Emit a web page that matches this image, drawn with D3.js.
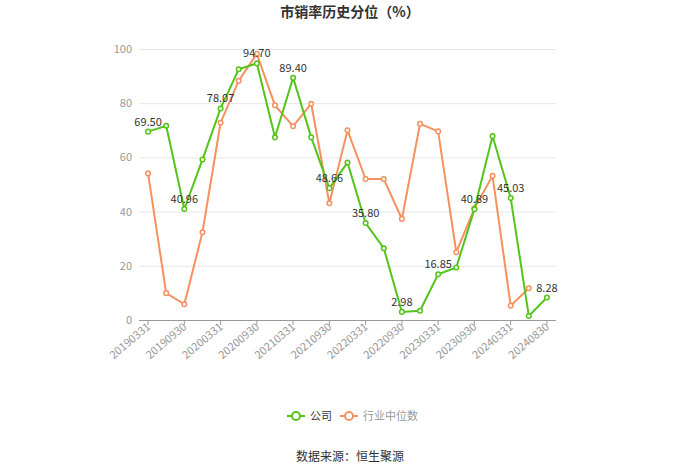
<!DOCTYPE html>
<html><head><meta charset="utf-8">
<script src="https://cdn.jsdelivr.net/npm/d3@7"></script>
<style>body{margin:0;background:#fff;font-family:"Microsoft YaHei","Noto Sans CJK SC",sans-serif;}</style>
</head><body><svg id="c" width="700" height="474"></svg>
<script>
const categories = ["20190331","20190630","20190930","20191231","20200331","20200630","20200930","20201231","20210331","20210630","20210930","20211231","20220331","20220630","20220930","20221231","20230331","20230630","20230930","20231231","20240331","20240630","20240830"];
const companyValues = [69.50,71.7,40.96,59.2,78.07,92.5,94.70,67.4,89.40,67.4,48.66,58.1,35.80,26.5,2.98,3.4,16.85,19.4,40.89,67.9,45.03,1.5,8.28];
const industryValues = [54.1,9.9,5.8,32.4,72.8,88.3,98.2,79.2,71.5,79.8,43.1,70.0,52.0,52.0,37.3,72.4,69.6,25.0,41.2,53.2,5.3,11.7,null];
const yTicks = [0,20,40,60,80,100];
const title = "市销率历史分位（%）";
const legendNames = ["公司","行业中位数"];
const source = "数据来源：恒生聚源";
const green = "#52c41a", orange = "#f7905f";

const svg = d3.select("#c");
const pL = 139, pR = 556, pT = 49, pB = 320;
const x = d3.scaleBand().domain(categories).range([pL, pR]);
const cx = d => x(d) + x.bandwidth()/2;
const y = d3.scaleLinear().domain([0,100]).range([pB, pT]);

svg.append("text").attr("x",350).attr("y",17).attr("text-anchor","middle")
  .attr("font-size",14).attr("font-weight","bold").attr("fill","#333").text(title);

svg.append("g").selectAll("line").data(yTicks.filter(t=>t>0)).join("line")
  .attr("x1",pL).attr("x2",pR).attr("y1",d=>y(d)+0.5).attr("y2",d=>y(d)+0.5)
  .attr("stroke","#e6e6e6").attr("stroke-width",1);
svg.append("g").selectAll("text").data(yTicks).join("text")
  .attr("x",132).attr("y",d=>y(d)+4).attr("text-anchor","end")
  .attr("font-size",11).attr("fill","#999").text(d=>d);
svg.append("line").attr("x1",pL).attr("x2",pR).attr("y1",pB+0.5).attr("y2",pB+0.5).attr("stroke","#999");
const labCats = categories.filter((d,i)=>i%2===0);
svg.append("g").selectAll("line").data(labCats).join("line")
  .attr("x1",d=>cx(d)).attr("x2",d=>cx(d)).attr("y1",pB).attr("y2",pB+5).attr("stroke","#999");
svg.append("g").selectAll("text").data(labCats).join("text")
  .attr("transform",d=>`translate(${cx(d)+3},${pB+8}) rotate(-40)`)
  .attr("text-anchor","end").attr("font-size",11).attr("fill","#999").text(d=>d);

function series(vals, color, labels){
  const pts = vals.map((v,i)=>({c:categories[i],v,i})).filter(p=>p.v!=null);
  const line = d3.line().x(p=>cx(p.c)).y(p=>y(p.v));
  svg.append("path").datum(pts).attr("d",line).attr("fill","none").attr("stroke",color).attr("stroke-width",2);
  svg.append("g").selectAll("circle").data(pts).join("circle")
    .attr("cx",p=>cx(p.c)).attr("cy",p=>y(p.v)).attr("r",2.3)
    .attr("fill","#fff").attr("stroke",color).attr("stroke-width",1.5);
  if(labels){
    svg.append("g").selectAll("text").data(pts.filter(p=>p.i%2===0)).join("text")
      .attr("x",p=>cx(p.c)).attr("y",p=>y(p.v)-6).attr("text-anchor","middle")
      .attr("font-size",11).attr("fill","#333").text(p=>p.v.toFixed(2));
  }
}
series(industryValues, orange, false);
series(companyValues, green, true);

const lg = svg.append("g");
[[legendNames[0],green,287],[legendNames[1],orange,340]].forEach(([n,c,lx])=>{
  lg.append("line").attr("x1",lx).attr("x2",lx+18).attr("y1",416).attr("y2",416).attr("stroke",c).attr("stroke-width",2);
  lg.append("circle").attr("cx",lx+9).attr("cy",416).attr("r",4).attr("fill","#fff").attr("stroke",c).attr("stroke-width",2);
  lg.append("text").attr("x",lx+23).attr("y",420).attr("font-size",11).attr("fill",n==="公司"?"#333":"#999").text(n);
});
svg.append("text").attr("x",350).attr("y",461).attr("text-anchor","middle").attr("font-size",12).attr("fill","#333").text(source);
</script></body></html>
